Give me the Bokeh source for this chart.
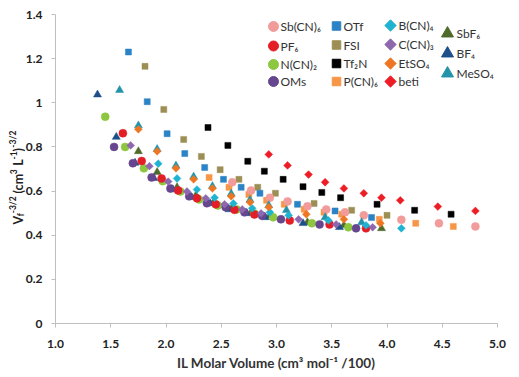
import math
from bokeh.plotting import figure
from bokeh.models import Range1d, FixedTicker, ColumnDataSource
from bokeh.core.properties import value
from bokeh.embed import file_html
from bokeh.resources import INLINE

# ---------------- data ----------------
x_ticks = [1.0, 1.5, 2.0, 2.5, 3.0, 3.5, 4.0, 4.5, 5.0]
x_tick_labels = ["1.0", "1.5", "2.0", "2.5", "3.0", "3.5", "4.0", "4.5", "5.0"]
y_ticks = [0.0, 0.2, 0.4, 0.6, 0.8, 1.0, 1.2, 1.4]
y_tick_labels = ["0", "0.2", "0.4", "0.6", "0.8", "1", "1.2", "1.4"]

x_label = "IL Molar Volume (cm³ mol⁻¹ /100)"
y_label_parts = ["V", "f", "-3/2", "(cm", "3", "L", "-1", ")", "-3/2"]
y_label_kinds = ["n", "sub", "sup", "n", "sup", "n", "sup", "n", "sup"]
y_label_gap_before = [0, 0, 0, 1, 0, 1, 0, 0, 0]  # a word space before the part

series_names = ["Sb(CN)₆", "PF₆", "N(CN)₂", "OMs",
                "OTf", "FSI", "Tf₂N", "P(CN)₆",
                "B(CN)₄", "C(CN)₃", "EtSO₄", "beti",
                "SbF₆", "BF₄", "MeSO₄"]

sbcn6_x = [2.60, 2.77, 2.94, 3.10, 3.28, 3.45, 3.62, 3.79, 4.13, 4.47, 4.80]
sbcn6_y = [0.640, 0.603, 0.570, 0.553, 0.531, 0.517, 0.504, 0.490, 0.470, 0.454, 0.440]

pf6_x = [1.61, 1.78, 1.96, 2.11, 2.28, 2.45, 2.62, 2.80, 3.12, 3.48, 3.81]
pf6_y = [0.862, 0.736, 0.657, 0.603, 0.567, 0.540, 0.515, 0.494, 0.467, 0.449, 0.431]

ncn2_x = [1.45, 1.63, 1.80, 1.97, 2.13, 2.30, 2.47, 2.64, 2.80, 2.97, 3.32, 3.65]
ncn2_y = [0.937, 0.800, 0.703, 0.645, 0.598, 0.562, 0.535, 0.517, 0.498, 0.481, 0.454, 0.436]

oms_x = [1.53, 1.70, 1.87, 2.04, 2.21, 2.37, 2.54, 2.71, 2.87, 3.04, 3.39, 3.72]
oms_y = [0.800, 0.726, 0.662, 0.612, 0.576, 0.545, 0.527, 0.504, 0.488, 0.472, 0.449, 0.431]

otf_x = [1.66, 1.83, 2.01, 2.17, 2.35, 2.52, 2.68, 2.85, 3.19, 3.53, 3.86]
otf_y = [1.230, 1.005, 0.860, 0.770, 0.707, 0.653, 0.617, 0.590, 0.540, 0.510, 0.480]

fsi_x = [1.81, 1.98, 2.16, 2.32, 2.49, 2.66, 2.83, 2.99, 3.34, 3.68, 4.00]
fsi_y = [1.165, 0.970, 0.834, 0.757, 0.697, 0.653, 0.617, 0.590, 0.544, 0.513, 0.490]

tf2n_x = [2.38, 2.56, 2.74, 2.89, 3.06, 3.24, 3.41, 3.58, 3.91, 4.25, 4.58]
tf2n_y = [0.888, 0.807, 0.735, 0.690, 0.653, 0.620, 0.594, 0.570, 0.540, 0.513, 0.495]

pcn6_x = [2.39, 2.57, 2.75, 2.91, 3.07, 3.25, 3.43, 3.59, 3.93, 4.26, 4.60]
pcn6_y = [0.662, 0.617, 0.585, 0.558, 0.540, 0.518, 0.504, 0.495, 0.472, 0.454, 0.440]

bcn4_x = [1.93, 2.10, 2.28, 2.44, 2.61, 2.78, 2.94, 3.11, 3.47, 3.81, 4.13]
bcn4_y = [0.724, 0.657, 0.607, 0.570, 0.544, 0.522, 0.504, 0.490, 0.467, 0.445, 0.431]

ccn3_x = [1.68, 1.85, 2.02, 2.19, 2.36, 2.53, 2.69, 2.86, 3.20, 3.54, 3.87]
ccn3_y = [0.807, 0.713, 0.643, 0.598, 0.567, 0.540, 0.517, 0.499, 0.472, 0.449, 0.436]

etso4_x = [1.75, 1.92, 2.09, 2.25, 2.42, 2.59, 2.76, 2.93, 3.27, 3.61, 3.94]
etso4_y = [0.880, 0.780, 0.703, 0.653, 0.612, 0.576, 0.549, 0.527, 0.495, 0.472, 0.454]

beti_x = [2.93, 3.10, 3.29, 3.44, 3.61, 3.79, 3.95, 4.12, 4.46, 4.80]
beti_y = [0.766, 0.716, 0.675, 0.640, 0.612, 0.590, 0.570, 0.558, 0.530, 0.510]

sbf6_x = [1.75, 1.92, 2.10, 2.27, 2.43, 2.60, 2.77, 2.94, 3.28, 3.61, 3.95]
sbf6_y = [0.780, 0.686, 0.617, 0.580, 0.549, 0.527, 0.504, 0.490, 0.458, 0.445, 0.431]

bf4_x = [1.38, 1.55, 1.72, 1.89, 2.06, 2.23, 2.40, 2.57, 2.73, 2.90, 3.24, 3.57]
bf4_y = [1.037, 0.845, 0.728, 0.658, 0.607, 0.572, 0.544, 0.517, 0.499, 0.481, 0.454, 0.436]

meso4_x = [1.58, 1.75, 1.92, 2.09, 2.25, 2.42, 2.59, 2.76, 2.93, 3.09, 3.44, 3.77]
meso4_y = [1.057, 0.897, 0.790, 0.715, 0.665, 0.622, 0.588, 0.560, 0.535, 0.513, 0.481, 0.458]

series_x = [sbcn6_x, pf6_x, ncn2_x, oms_x, otf_x, fsi_x, tf2n_x, pcn6_x,
            bcn4_x, ccn3_x, etso4_x, beti_x, sbf6_x, bf4_x, meso4_x]
series_y = [sbcn6_y, pf6_y, ncn2_y, oms_y, otf_y, fsi_y, tf2n_y, pcn6_y,
            bcn4_y, ccn3_y, etso4_y, beti_y, sbf6_y, bf4_y, meso4_y]

# ---------------- styles ----------------
colors = ["#F29B9B", "#E41E26", "#8DC63F", "#66478F",
          "#2B83C6", "#9C8F55", "#000000", "#F79646",
          "#1FB3D1", "#8E67AE", "#EE7623", "#EE1C25",
          "#4F6A2B", "#1D4F8A", "#2393A9"]
shapes = ["circle"] * 4 + ["square"] * 4 + ["diamond"] * 4 + ["triangle"] * 3

X0, X1, Y0, Y1 = 1.0, 5.0, 0.0, 1.4
FL, FT, FW, FH = 55.0, 14.0, 442.0, 309.0  # axis box position in the page picture
W, H = 511, 371                              # canvas size (the frame fills it)
PX_PER_X = FW / (X1 - X0)
PX_PER_Y = FH / (Y1 - Y0)


def px_x(px):
    return X0 + (px - FL) / PX_PER_X


def px_y(py):
    return Y1 - (py - FT) / PX_PER_Y


p = figure(frame_width=W, frame_height=H, title=None,
           x_range=Range1d(px_x(0), px_x(W)), y_range=Range1d(px_y(H), px_y(0)),
           output_backend="svg", toolbar_location=None,
           min_border_left=0, min_border_top=0, min_border_right=0,
           min_border_bottom=0)
p.outline_line_color = None
p.xgrid.visible = False
p.ygrid.visible = False
p.background_fill_color = "white"
p.border_fill_color = "white"

axis_col = "#BFBFBF"
lab_col = "#222222"
for ax in (p.xaxis, p.yaxis):
    ax.axis_line_color = axis_col
    ax.major_tick_line_color = axis_col
    ax.minor_tick_line_color = None
    ax.major_tick_in = 0
    ax.major_tick_out = 4
    ax.major_label_text_font = "Lato"
    ax.major_label_text_font_style = "bold"
    ax.major_label_text_font_size = "12px"
    ax.major_label_text_color = lab_col

p.xaxis.ticker = FixedTicker(ticks=x_ticks)
p.xaxis.major_label_overrides = {t: l for t, l in zip(x_ticks, x_tick_labels)}
p.xaxis.bounds = (X0, X1)
p.xaxis.fixed_location = Y0
p.yaxis.ticker = FixedTicker(ticks=y_ticks)
p.yaxis.major_label_overrides = {t: l for t, l in zip(y_ticks, y_tick_labels)}
p.yaxis.bounds = (Y0, Y1)
p.yaxis.fixed_location = X0
p.xaxis.major_label_standoff = 12
p.yaxis.major_label_standoff = 9

# x-axis title, centred under the axis box
p.text(x=[(X0 + X1) / 2], y=[px_y(362)], text=[x_label], text_font=value("Lato"),
       text_font_style="bold", text_font_size="13.5px", text_color="#333333",
       text_align="center", text_baseline="middle")

# ---------------- data marks ----------------
sizes = {"circle": 8, "square": 6, "diamond": 5.5, "triangle": 8}
angles = {"circle": 0, "square": 0, "diamond": math.pi / 4, "triangle": 0}
mk = {"circle": "circle", "square": "square", "diamond": "square", "triangle": "triangle"}

order = [6, 5, 4, 7, 0, 11, 14, 12, 13, 2, 1, 3, 9, 8, 10]
for i in order:
    s = shapes[i]
    p.scatter(x=series_x[i], y=series_y[i], marker=mk[s], size=sizes[s],
              angle=angles[s], fill_color=colors[i], line_color=colors[i],
              line_width=0.5)

# ---------------- legend (4 columns) ----------------
col_marker_px = [273, 336, 390, 447]
col_text_px = [280, 343, 398, 456]
rows_px = [[26, 45.5, 64, 81], [25.5, 44.5, 63, 81], [25, 44, 63, 81], [33, 53, 73]]
leg_sizes = {"circle": 10, "square": 8.5, "diamond": 8, "triangle": 12}
lx, ly, lm, lc, la, ls, tx, tt = [], [], [], [], [], [], [], []
k = 0
for c in range(4):
    for r, py in enumerate(rows_px[c]):
        s = shapes[k]
        lx.append(px_x(col_marker_px[c]))
        ly.append(px_y(py))
        lm.append(mk[s])
        lc.append(colors[k])
        la.append(angles[s])
        ls.append(leg_sizes[s])
        tx.append(px_x(col_text_px[c]))
        tt.append(series_names[k])
        k += 1
leg_src = ColumnDataSource(dict(x=lx, y=ly, m=lm, c=lc, a=la, s=ls))
p.scatter(x="x", y="y", marker="m", size="s", angle="a", fill_color="c",
          line_color="c", source=leg_src)
p.text(x=tx, y=ly, text=tt, text_font=value("Lato"), text_font_size="12px",
       text_color="#333333", text_baseline="middle", text_align="left")

# ---------------- y-axis title (rich text pieces, rotated) ----------------
wid = {"V": .66, "f": .35, "-": .37, "3": .56, "/": .40, "2": .56, "1": .56,
       " ": .26, "(": .31, "c": .44, "m": .79, "L": .50, ")": .31}
fs = {"n": 12.5, "sub": 8.5, "sup": 8.5}
base_px = {"n": 17.5, "sub": 20.5, "sup": 12.5}
yx, yy, yt, yf = [], [], [], []
pos = 224.0
for t, kind, gap in zip(y_label_parts, y_label_kinds, y_label_gap_before):
    pos -= gap * 0.3 * fs["n"]
    yx.append(px_x(base_px[kind]))
    yy.append(px_y(pos))
    yt.append(t)
    yf.append(f"{fs[kind]}px")
    pos -= sum(wid.get(ch, .55) for ch in t) * fs[kind]
ysrc = ColumnDataSource(dict(x=yx, y=yy, t=yt, f=yf))
p.text(x="x", y="y", text="t", text_font_size="f", source=ysrc,
       text_font=value("Lato"), text_font_style="bold", text_color="#222222",
       angle=math.pi / 2, text_align="left", text_baseline="alphabetic")

open("out.html", "w").write(file_html(p, INLINE))
